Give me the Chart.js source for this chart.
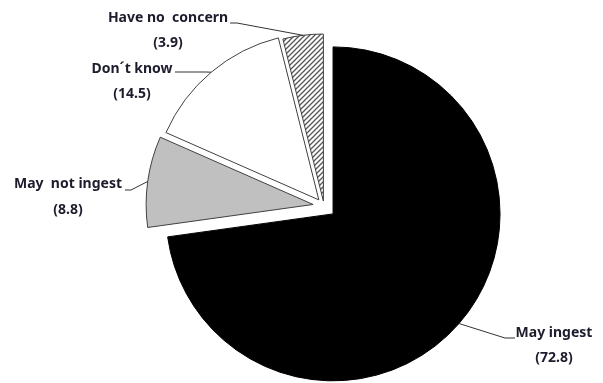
<!DOCTYPE html>
<html>
<head>
<meta charset="utf-8">
<script src="https://cdn.jsdelivr.net/npm/chart.js@4.4.1/dist/chart.umd.min.js"></script>
<style>
  html, body { margin: 0; padding: 0; background: #fff; }
  #wrap { width: 603px; height: 383px; }
</style>
</head>
<body>
<div id="wrap"><canvas id="pie"></canvas></div>
<script>
// data
const categories = ['May ingest', 'May  not ingest', 'Don\u00b4t know', 'Have no  concern'];
const shares = [72.8, 8.8, 14.5, 3.9];
const valueLabels = ['(72.8)', '(8.8)', '(14.5)', '(3.9)'];

// how far each slice is pulled out from the centre (px)
const explode = [12, 11, 8, 5];

// label text centres and leader elbows
const labelLayout = [
  { x: 554, y1: 333, y2: 358, leader: [[505, 338], [515, 338]] },
  { x: 68, y1: 184, y2: 210, leader: [[131, 190], [125, 190]] },
  { x: 132, y1: 69, y2: 94, leader: [[206, 72], [175, 72]] },
  { x: 168, y1: 18, y2: 43, leader: [[237, 23], [230, 23]] }
];

function makeHatch() {
  const size = 5;
  const c = document.createElement('canvas');
  c.width = size; c.height = size;
  const g = c.getContext('2d');
  g.fillStyle = '#fff';
  g.fillRect(0, 0, size, size);
  g.strokeStyle = '#555';
  g.lineWidth = 1.3;
  g.beginPath();
  g.moveTo(0, size); g.lineTo(size, 0);
  g.moveTo(-1, 1); g.lineTo(1, -1);
  g.moveTo(size - 1, size + 1); g.lineTo(size + 1, size - 1);
  g.stroke();
  return g.createPattern(c, 'repeat');
}

const fills = ['#000000', '#c0c0c0', '#ffffff', makeHatch()];
const borders = ['#000000', '#404040', '#404040', '#404040'];

// shift the arcs after layout (keeps the radius the same for every slice)
const explodePlugin = {
  id: 'explode',
  afterDatasetsUpdate(chart) {
    const arcs = chart.getDatasetMeta(0).data;
    arcs.forEach((arc, i) => {
      const half = (arc.startAngle + arc.endAngle) / 2;
      arc.x += Math.cos(half) * explode[i];
      arc.y += Math.sin(half) * explode[i];
    });
  }
};

const labelPlugin = {
  id: 'pieLabels',
  afterDraw(chart) {
    const ctx = chart.ctx;
    const arcs = chart.getDatasetMeta(0).data;
    ctx.save();
    arcs.forEach((arc, i) => {
      const half = (arc.startAngle + arc.endAngle) / 2;
      const ax = arc.x + Math.cos(half) * arc.outerRadius;
      const ay = arc.y + Math.sin(half) * arc.outerRadius;
      const lay = labelLayout[i];
      ctx.strokeStyle = '#333';
      ctx.lineWidth = 1;
      ctx.beginPath();
      ctx.moveTo(ax, ay);
      lay.leader.forEach(p => ctx.lineTo(p[0], p[1]));
      ctx.stroke();

      ctx.fillStyle = '#1c1c2c';
      ctx.font = 'bold 14px "Noto Sans", sans-serif';
      ctx.textAlign = 'center';
      ctx.textBaseline = 'middle';
      ctx.fillText(categories[i], lay.x, lay.y1);
      ctx.fillText(valueLabels[i], lay.x, lay.y2);
    });
    ctx.restore();
  }
};

new Chart(document.getElementById('pie'), {
  type: 'pie',
  data: {
    labels: categories,
    datasets: [{
      data: shares,
      backgroundColor: fills,
      borderColor: borders,
      borderWidth: 1,
      hoverOffset: 0
    }]
  },
  options: {
    responsive: true,
    maintainAspectRatio: false,
    animation: false,
    radius: 167,
    layout: { padding: { left: 45, right: 0, top: 29, bottom: 0 } },
    plugins: {
      legend: { display: false },
      tooltip: { enabled: false }
    },
    events: []
  },
  plugins: [explodePlugin, labelPlugin]
});
</script>
</body>
</html>
